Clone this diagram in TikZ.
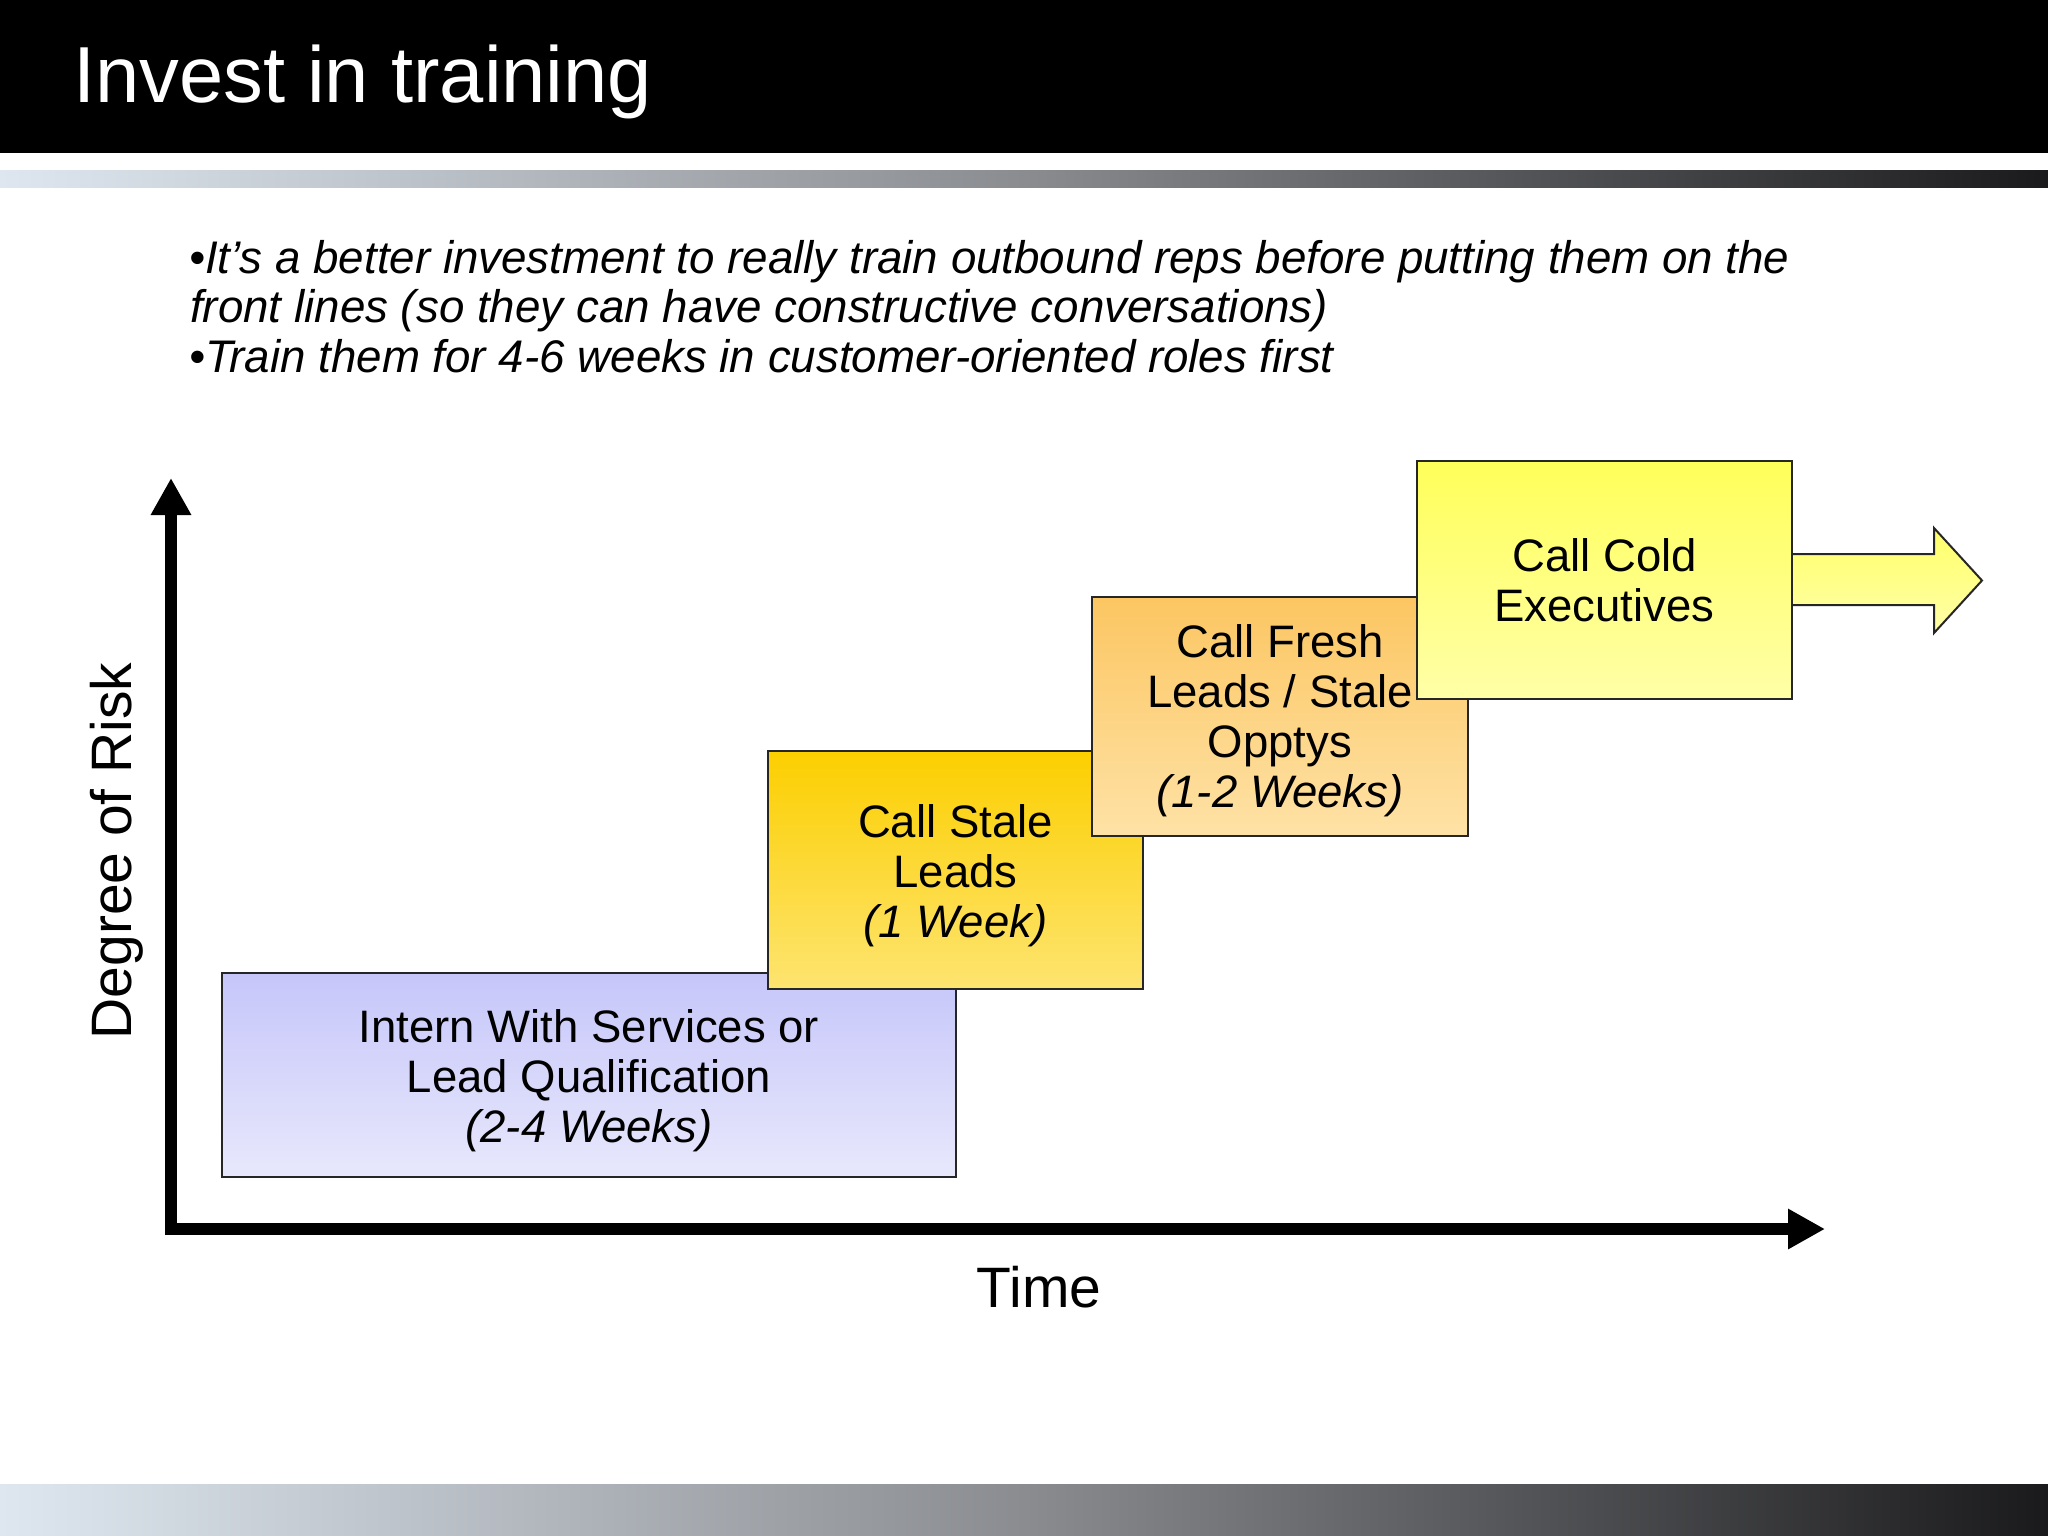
\documentclass[tikz,border=0pt]{standalone}
\usepackage{fontspec}
\setmainfont{Liberation Sans}
\usetikzlibrary{arrows.meta}
\definecolor{bluetop}{HTML}{C6C6FA}
\definecolor{bluebot}{HTML}{E8E8FC}
\definecolor{goldtop}{HTML}{FCCF00}
\definecolor{goldbot}{HTML}{FDE470}
\definecolor{orantop}{HTML}{FCC662}
\definecolor{oranbot}{HTML}{FEE2A6}
\definecolor{yeltop}{HTML}{FFFF5A}
\definecolor{yelbot}{HTML}{FFFFA8}
\definecolor{stripelight}{HTML}{DEE7F0}
\definecolor{stripemid}{HTML}{8A8C90}
\definecolor{stripedark}{HTML}{1A1A1C}
\tikzset{
  stagebox/.style={draw=black!85, line width=2pt, rectangle, inner sep=0pt,
    align=center, font=\fontsize{45.5}{50}\selectfont},
  axisline/.style={line width=12pt, -{Triangle[length=37pt,width=38pt]}},
  bullettext/.style={anchor=base west, inner sep=0pt, font=\fontsize{45.7}{50}\selectfont\itshape},
  axislabel/.style={anchor=base, inner sep=0pt, font=\fontsize{57}{60}\selectfont}
}
\begin{document}
\begin{tikzpicture}[x=1pt,y=-1pt]
\useasboundingbox (0,0) rectangle (2048,1536);
\fill[white] (0,0) rectangle (2048,1536);
% header
\fill[black] (0,0) rectangle (2048,153);
\shade[left color=stripelight, right color=stripedark, middle color=stripemid] (0,170) rectangle (2048,187);
\shade[left color=stripelight, right color=stripedark, middle color=stripemid] (0,1484) rectangle (2048,1536);
\node[anchor=base west, inner sep=0pt, text=white, font=\fontsize{79.5}{80}\selectfont] (title) at (73,103) {Invest in training};
% bullets
\node[bullettext] (b1) at (189,273) {•It’s a better investment to really train outbound reps before putting them on the};
\node[bullettext] (b2) at (190,322) {front lines (so they can have constructive conversations)};
\node[bullettext] (b3) at (189,372) {•Train them for 4-6 weeks in customer-oriented roles first};
% axes
\coordinate (origin) at (171,1229);
\coordinate (ytip) at (171,478);
\coordinate (xtip) at (1825,1229);
\draw[axisline] ([yshift=-6pt]origin) -- (ytip);
\draw[axisline] (origin) -- (xtip);
\node[axislabel, rotate=90] (risk) at (131,851) {Degree of Risk};
\node[axislabel] (time) at (1039,1307) {Time};
% stages
\node[stagebox, minimum width=734pt, minimum height=204pt, top color=bluetop, bottom color=bluebot] (intern) at (589,1075)
  {\rule{0pt}{44pt}Intern With Services or\\Lead Qualification\\\textit{(2-4 Weeks)}};
\node[stagebox, minimum width=375pt, minimum height=238pt, top color=goldtop, bottom color=goldbot] (stale) at (955.5,870)
  {\rule{0pt}{44pt}Call Stale\\Leads\\\textit{(1 Week)}};
\node[stagebox, minimum width=376pt, minimum height=239pt, top color=orantop, bottom color=oranbot] (fresh) at (1280,716.5)
  {\rule{0pt}{42pt}Call Fresh\\Leads / Stale\\Opptys\\\textit{(1-2 Weeks)}};
\node[stagebox, minimum width=375pt, minimum height=238pt, top color=yeltop, bottom color=yelbot] (cold) at (1604.5,580)
  {Call Cold\\Executives};
% block arrow
\path[top color=yeltop!80!yelbot, bottom color=yelbot] (1793,554) -- (1934,554) -- (1934,528) -- (1982,580.5) -- (1934,633) -- (1934,605) -- (1793,605) -- cycle;
\draw[black!85, line width=2pt, line join=miter] (1792,554) -- (1934,554) -- (1934,528) -- (1982,580.5) -- (1934,633) -- (1934,605) -- (1792,605);
\end{tikzpicture}
\end{document}
